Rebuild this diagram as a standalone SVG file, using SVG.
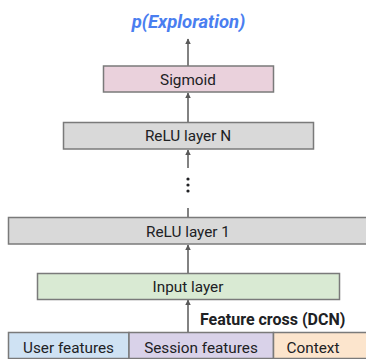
<svg xmlns="http://www.w3.org/2000/svg" width="366" height="359" viewBox="0 0 366 359">
<defs>
<style>
.box{stroke:#7a7a7a;stroke-width:1.5}
.lbl{font-family:Roboto,"Liberation Sans",sans-serif;font-size:15.3px;fill:#202124;text-anchor:middle}
.conn{stroke:#595959;stroke-width:1.5;fill:none}
</style>
<marker id="ah" viewBox="0 0 10 10" refX="9" refY="5" markerWidth="5.5" markerHeight="5.5" markerUnits="userSpaceOnUse" orient="auto">
<path d="M0,0 L10,5 L0,10 Z" fill="#595959"/>
</marker>
</defs>
<rect width="366" height="359" fill="#ffffff"/>
<text id="title" x="188.5" y="28" font-family="Roboto,'Liberation Sans',sans-serif" font-size="18.5" font-weight="bold" font-style="italic" fill="#4a7ef0" text-anchor="middle">p(Exploration)</text>
<g id="connectors">
<line class="conn" x1="188" y1="66" x2="188" y2="39" marker-end="url(#ah)"/>
<line class="conn" x1="188" y1="122" x2="188" y2="93" marker-end="url(#ah)"/>
<line class="conn" x1="188" y1="168" x2="188" y2="150" marker-end="url(#ah)"/>
<line class="conn" x1="188" y1="208" x2="188" y2="217"/>
<line class="conn" x1="188" y1="273" x2="188" y2="245" marker-end="url(#ah)"/>
<line class="conn" x1="188" y1="333" x2="188" y2="300" marker-end="url(#ah)"/>
</g>
<g id="ellipsis" fill="#202124">
<circle cx="188" cy="179" r="1.6"/>
<circle cx="188" cy="185" r="1.6"/>
<circle cx="188" cy="191" r="1.6"/>
</g>
<g id="sigmoid">
<rect class="box" x="103.5" y="66" width="170" height="26" fill="#ead1dc"/>
<text class="lbl" x="188" y="84.5">Sigmoid</text>
</g>
<g id="relu-n">
<rect class="box" x="63.5" y="122.5" width="250" height="26.5" fill="#d9d9d9"/>
<text class="lbl" x="188" y="141">ReLU layer N</text>
</g>
<g id="relu-1">
<rect class="box" x="8.5" y="217.5" width="370" height="26.5" fill="#d9d9d9"/>
<text class="lbl" x="188" y="236.5">ReLU layer 1</text>
</g>
<g id="input-layer">
<rect class="box" x="37.5" y="273.5" width="302" height="26" fill="#d9ead3"/>
<text class="lbl" x="188" y="292">Input layer</text>
</g>
<text id="dcn-label" x="200" y="324.5" font-family="Roboto,'Liberation Sans',sans-serif" font-size="16" font-weight="bold" fill="#202124">Feature cross (DCN)</text>
<g id="user-features">
<rect class="box" x="8.5" y="332.5" width="120.5" height="26" fill="#cfe2f3"/>
<text class="lbl" x="68.5" y="353">User features</text>
</g>
<g id="session-features">
<rect class="box" x="129" y="332.5" width="144.5" height="26" fill="#d9d2e9"/>
<text class="lbl" x="201" y="353">Session features</text>
</g>
<g id="context">
<rect class="box" x="273.5" y="332.5" width="110" height="26" fill="#fce5cd"/>
<text class="lbl" x="313" y="353">Context</text>
</g>
</svg>
